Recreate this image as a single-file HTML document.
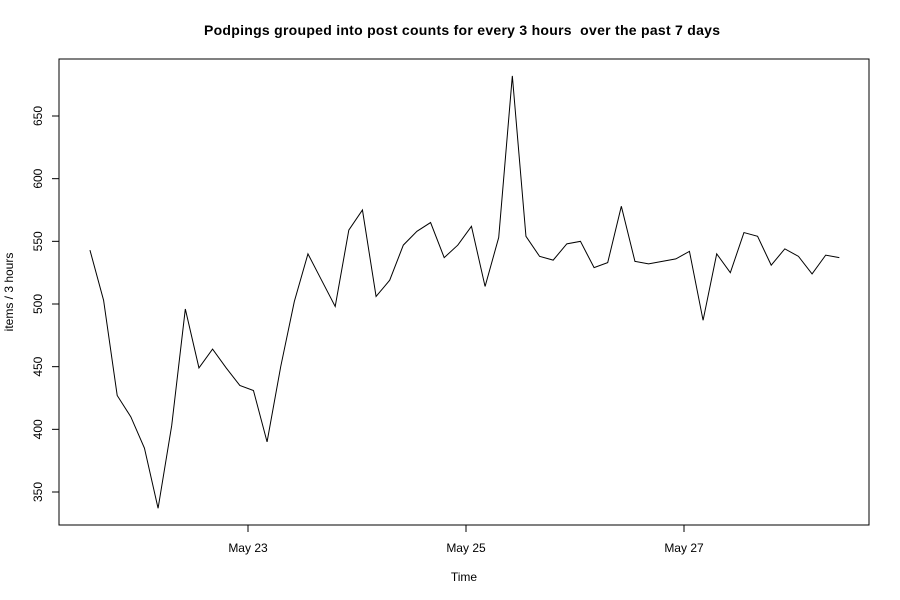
<!DOCTYPE html>
<html><head><meta charset="utf-8"><style>
html,body{margin:0;padding:0;background:#fff}
svg{display:block;font-family:"Liberation Sans",sans-serif}
</style></head><body>
<svg id="chart" width="900" height="600" xmlns="http://www.w3.org/2000/svg">
<rect width="900" height="600" fill="#fff"/>
<text x="462" y="35" text-anchor="middle" font-size="14" font-weight="bold" style="white-space:pre" xml:space="preserve" textLength="516" lengthAdjust="spacing">Podpings grouped into post counts for every 3 hours  over the past 7 days</text>
<rect x="59" y="59" width="810" height="466" fill="none" stroke="#000" stroke-width="1"/>
<text x="464" y="581" text-anchor="middle" font-size="12">Time</text>
<text transform="translate(13,292) rotate(-90)" text-anchor="middle" font-size="12">items / 3 hours</text>
<g id="axes"></g>
<path id="series" fill="none" stroke="#000" stroke-width="1"/>
</svg>
<script>
const values = [543,503,427,410,385,337,403,496,449,464,449,435,431,390,450,502,540,519,498,559,575,506,519,547,558,565,537,547,562,514,553,682,554,538,535,548,550,529,533,578,534,532,534,536,542,487,540,525,557,554,531,544,538,524,539,537];
const startDay = -1.45; // days relative to May 23
const stepDay = 0.125;
const yTicks = [350,400,450,500,550,600,650];
const xTickDays = [0,2,4];
const xTickLabels = ["May 23","May 25","May 27"];

const X = d => 248 + d*109;
const Y = v => 492 - (v-350)*(376/300);
const NS = "http://www.w3.org/2000/svg";
const axes = document.getElementById('axes');
function mk(tag, attrs){const e=document.createElementNS(NS,tag);for(const k in attrs)e.setAttribute(k,attrs[k]);axes.appendChild(e);return e;}

const yl = mk('line',{x1:59,x2:59,y1:Y(yTicks[0]),y2:Y(yTicks[yTicks.length-1]),stroke:'#000'});


yTicks.forEach(v=>{
  const t=mk('line',{x1:52,x2:59,y1:Y(v),y2:Y(v),stroke:'#000'});
  
  
  const l=mk('text',{transform:`translate(42,${Y(v)}) rotate(-90)`,'text-anchor':'middle','font-size':12});
  
  
  l.textContent=v;
});
const xl = mk('line',{x1:X(xTickDays[0]),x2:X(xTickDays[xTickDays.length-1]),y1:525,y2:525,stroke:'#000'});


xTickDays.forEach((d,i)=>{
  const t=mk('line',{x1:X(d),x2:X(d),y1:525,y2:532,stroke:'#000'});
  
  
  const l=mk('text',{x:X(d),y:552,'text-anchor':'middle','font-size':12});
  
  
  l.textContent=xTickLabels[i];
});
document.getElementById('series').setAttribute('d',
  values.map((v,i)=>(i?'L':'M')+X(startDay+i*stepDay).toFixed(2)+' '+Y(v).toFixed(2)).join(' '));
</script>
</body></html>
